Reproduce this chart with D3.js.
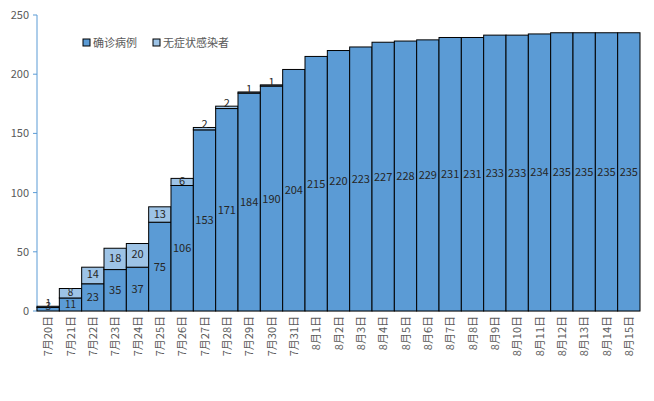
<!DOCTYPE html>
<html><head><meta charset="utf-8">
<script src="https://cdn.jsdelivr.net/npm/d3@7"></script>
<style>body{margin:0;background:#fff}text{font-family:"Noto Sans CJK SC",sans-serif}</style>
</head><body><div id="canvas"></div>
<script>
"use strict"

// data
let dates = ["7月20日","7月21日","7月22日","7月23日","7月24日","7月25日","7月26日","7月27日","7月28日",
  "7月29日","7月30日","7月31日","8月1日","8月2日","8月3日","8月4日","8月5日","8月6日","8月7日",
  "8月8日","8月9日","8月10日","8月11日","8月12日","8月13日","8月14日","8月15日"];
let confirmed = [3,11,23,35,37,75,106,153,171,184,190,204,215,220,223,227,228,229,231,231,233,233,234,235,235,235,235];
let asymptomatic = [1,8,14,18,20,13,6,2,2,1,1,0,0,0,0,0,0,0,0,0,0,0,0,0,0,0,0];
let yTicks = [0,50,100,150,200,250];

let drawing = d3.select("#canvas").append("svg").attr("width", 654).attr("height", 401);

let x = d3.scaleBand().domain(dates).range([37, 640]).padding(0);
let y = d3.scaleLinear().domain([0, 250]).range([311, 15]);

/* axes */
drawing.append("line").attr("x1", 37).attr("x2", 37).attr("y1", 15).attr("y2", 311).attr("stroke", "#5b9bd5");
drawing.append("line").attr("x1", 37).attr("x2", 640).attr("y1", 311).attr("y2", 311).attr("stroke", "#bfbfbf");
yTicks.forEach(t => {
  drawing.append("line").attr("x1", 33).attr("x2", 37).attr("y1", y(t)).attr("y2", y(t)).attr("stroke", "#5b9bd5");
  drawing.append("text").attr("x", 29).attr("y", y(t) + 4).attr("text-anchor", "end")
    .attr("font-size", 11).attr("fill", "#595959").text(t);
});

/* bars */
dates.forEach((d, i) => {
  drawing.append("rect").attr("x", x(d)).attr("width", x.bandwidth())
    .attr("y", y(confirmed[i])).attr("height", y(0) - y(confirmed[i]))
    .attr("fill", "#5b9bd5").attr("stroke", "#000").attr("stroke-width", 1);
  if (asymptomatic[i] > 0) {
    drawing.append("rect").attr("x", x(d)).attr("width", x.bandwidth())
      .attr("y", y(confirmed[i] + asymptomatic[i])).attr("height", y(confirmed[i]) - y(confirmed[i] + asymptomatic[i]))
      .attr("fill", "#9dc3e6").attr("stroke", "#000").attr("stroke-width", 1);
  }
});

/* labels */
dates.forEach((d, i) => {
  let cx = x(d) + x.bandwidth() / 2;
  let small = confirmed[i] < 20;
  let ly = confirmed[i] < 10 ? y(0) - 1 : y(confirmed[i] / 2) + 4;
  drawing.append("text").attr("x", cx).attr("y", ly).attr("text-anchor", "middle")
    .attr("font-size", small ? 10 : 11).attr("fill", "#262626").text(confirmed[i]);
  if (asymptomatic[i] > 0) {
    let ay = asymptomatic[i] < 5 ? y(confirmed[i] + asymptomatic[i]) + 1 : y(confirmed[i] + asymptomatic[i] / 2) + 3;
    drawing.append("text").attr("x", cx).attr("y", ay).attr("text-anchor", "middle")
      .attr("font-size", small ? 10 : 11).attr("fill", "#262626").text(asymptomatic[i]);
  }
  drawing.append("text").attr("transform", `translate(${cx + 4},316) rotate(-90)`)
    .attr("text-anchor", "end").attr("font-size", 11).attr("fill", "#595959").text(d);
});

/* legend */
drawing.append("rect").attr("x", 83).attr("y", 39).attr("width", 7).attr("height", 7).attr("fill", "#5b9bd5").attr("stroke", "#000");
drawing.append("text").attr("x", 93).attr("y", 47).attr("font-size", 11).attr("fill", "#595959").text("确诊病例");
drawing.append("rect").attr("x", 153).attr("y", 39).attr("width", 7).attr("height", 7).attr("fill", "#9dc3e6").attr("stroke", "#000");
drawing.append("text").attr("x", 163).attr("y", 47).attr("font-size", 11).attr("fill", "#595959").text("无症状感染者");
</script></body></html>
